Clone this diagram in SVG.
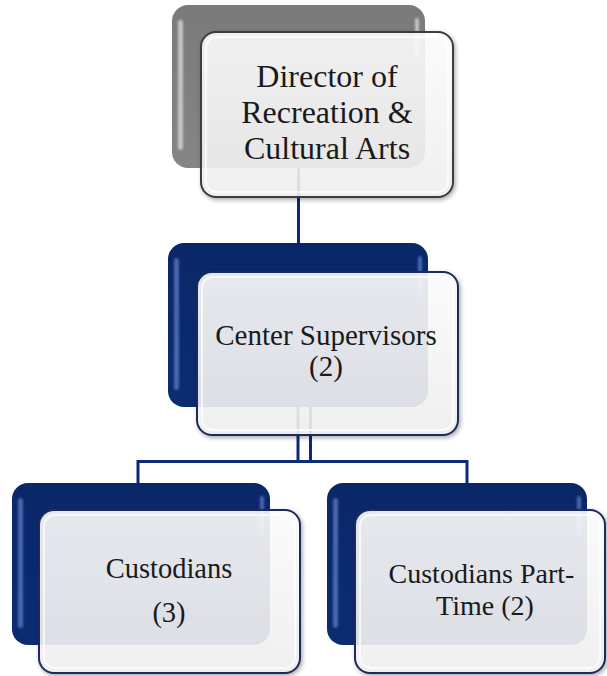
<svg xmlns="http://www.w3.org/2000/svg" width="607" height="676" viewBox="0 0 607 676">
  <defs>
    <linearGradient id="gNavy" x1="0" y1="0" x2="0" y2="1">
      <stop offset="0" stop-color="#0a2768"/>
      <stop offset="1" stop-color="#0c2c72"/>
    </linearGradient>
    <linearGradient id="gGray" x1="0" y1="0" x2="0" y2="1">
      <stop offset="0" stop-color="#7a7a7a"/>
      <stop offset="1" stop-color="#858585"/>
    </linearGradient>
    <linearGradient id="gFront" x1="0" y1="0" x2="0" y2="1">
      <stop offset="0" stop-color="#ffffff"/>
      <stop offset="1" stop-color="#f2f2f2"/>
    </linearGradient>
    <filter id="shadow" x="-10%" y="-10%" width="125%" height="125%">
      <feDropShadow dx="1.5" dy="2" stdDeviation="2" flood-color="#000" flood-opacity="0.35"/>
    </filter>
    <filter id="soft" x="-50%" y="-10%" width="200%" height="120%">
      <feGaussianBlur stdDeviation="1.2"/>
    </filter>
  </defs>
  <style>
    .back-navy { fill: url(#gNavy); }
    .back-gray { fill: url(#gGray); }
    .hl-navy { fill: #5b7cc8; opacity: 0.75; }
    .hl-gray { fill: #d6d6d6; opacity: 0.8; }
    .front { fill: url(#gFront); fill-opacity: 0.88; stroke-width: 2; filter: url(#shadow); }
    .front-gray { stroke: #3c3c3c; }
    .front-navy { stroke: #1c2c5c; }
    .inner { fill: none; stroke: #ffffff; stroke-width: 2; opacity: 0.7; }
    .conn { fill: none; stroke: #0b2a78; stroke-width: 3; }
    .lbl { fill: #1a1a1a; text-anchor: middle; }
  </style>

  <g id="connectors">
    <path class="conn" d="M298.5,168 V243"/>
    <path class="conn" d="M298,407 V461.5 M310.5,461.5 H138 V483"/>
    <path class="conn" d="M310.5,407 V461.5 H467 V483"/>
  </g>

  <g id="node-director">
    <rect class="back-gray" x="172" y="5" width="253" height="163" rx="16"/>
    <rect class="hl-gray" x="178" y="20" width="5" height="130" rx="2.5" filter="url(#soft)"/>
    <rect class="hl-gray" x="415" y="18" width="4" height="40" rx="2" filter="url(#soft)"/>
    <rect class="front front-gray" x="201" y="32" width="252" height="165" rx="15"/>
    <rect class="inner" x="206" y="37" width="242" height="155" rx="11"/>
    <text class="lbl" font-family="'Liberation Serif', 'DejaVu Serif', serif" font-size="32"><tspan x="327" y="87">Director of</tspan><tspan x="327" y="123">Recreation &amp;</tspan><tspan x="327" y="159">Cultural Arts</tspan></text>
  </g>

  <g id="node-center">
    <rect class="back-navy" x="168" y="243" width="260" height="164" rx="16"/>
    <rect class="hl-navy" x="174" y="258" width="5" height="132" rx="2.5" filter="url(#soft)"/>
    <rect class="hl-navy" x="418" y="256" width="4" height="40" rx="2" filter="url(#soft)"/>
    <rect class="front front-navy" x="197" y="272" width="261" height="163" rx="15"/>
    <rect class="inner" x="202" y="277" width="251" height="153" rx="11"/>
    <text class="lbl" font-family="'Liberation Serif', 'DejaVu Serif', serif" font-size="29"><tspan x="326" y="345">Center Supervisors</tspan><tspan x="326" y="376">(2)</tspan></text>
  </g>

  <g id="node-custodians">
    <rect class="back-navy" x="12" y="483" width="258" height="162" rx="16"/>
    <rect class="hl-navy" x="18" y="498" width="5" height="130" rx="2.5" filter="url(#soft)"/>
    <rect class="hl-navy" x="260" y="496" width="4" height="40" rx="2" filter="url(#soft)"/>
    <rect class="front front-navy" x="39" y="510" width="261" height="163" rx="15"/>
    <rect class="inner" x="44" y="515" width="251" height="153" rx="11"/>
    <text class="lbl" font-family="'Liberation Serif', 'DejaVu Serif', serif" font-size="28.5"><tspan x="169" y="578">Custodians</tspan><tspan x="169" y="622">(3)</tspan></text>
  </g>

  <g id="node-custodians-pt">
    <rect class="back-navy" x="327" y="483" width="260" height="162" rx="16"/>
    <rect class="hl-navy" x="333" y="498" width="5" height="130" rx="2.5" filter="url(#soft)"/>
    <rect class="hl-navy" x="577" y="496" width="4" height="40" rx="2" filter="url(#soft)"/>
    <rect class="front front-navy" x="355" y="510" width="250" height="163" rx="15"/>
    <rect class="inner" x="360" y="515" width="240" height="153" rx="11"/>
    <text class="lbl" font-family="'Liberation Serif', 'DejaVu Serif', serif" font-size="28"><tspan x="481.5" y="583">Custodians Part-</tspan><tspan x="485" y="615">Time (2)</tspan></text>
  </g>
</svg>
